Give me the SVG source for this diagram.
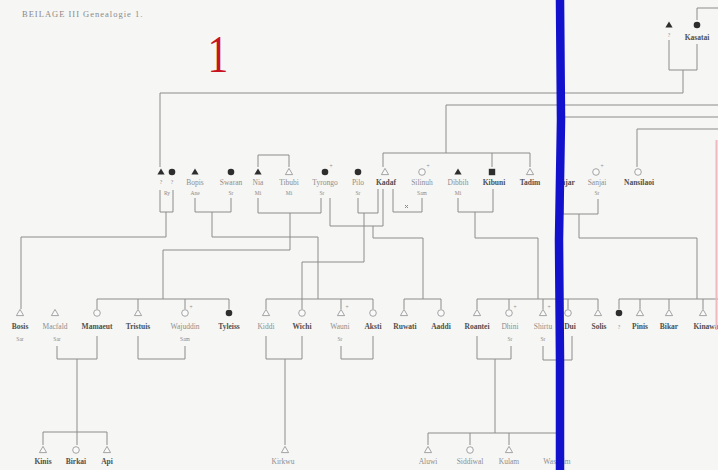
<svg xmlns="http://www.w3.org/2000/svg" width="718" height="470" viewBox="0 0 718 470">
<style>
.ln{stroke:#8c8c8c;stroke-width:1;fill:none}
.f{fill:#2e2e2e}
.o{fill:#fafafa;stroke:#9a9a9a;stroke-width:0.9}
.nm{font-family:"Liberation Serif",serif;font-size:7.5px;fill:#8e8e8e;text-anchor:middle}
.b{font-weight:bold;fill:#505050}
.sb{font-family:"Liberation Serif",serif;font-size:5.5px;fill:#8a8a8a;text-anchor:middle}
</style>
<defs>
<polygon id="tri" points="0,-3.6 3.6,2.6 -3.6,2.6"/>
<circle id="cir" r="3.3"/>
<rect id="sq" x="-3.2" y="-3.2" width="6.4" height="6.4"/>
</defs>
<rect width="718" height="470" fill="#f6f6f4"/>
<text x="22" y="17" font-family="Liberation Serif, serif" font-size="8.5" letter-spacing="1" fill="#8a8a8a">BEILAGE III   Genealogie 1.</text>
<text x="0" y="0" transform="translate(218,72) scale(0.8,1)" font-family="Liberation Serif, serif" font-size="52" fill="#c8141e" text-anchor="middle">1</text>

<g id="connectors">
<path class="ln" d="M697,20 V8 H718"/>
<path class="ln" d="M669,40 V70 H697 V44"/>
<path class="ln" d="M683,70 V93 H160 V167"/>
<path class="ln" d="M446,153 V105 H718"/>
<path class="ln" d="M383,167 V153 H530 V167 M492,153 V167"/>
<path class="ln" d="M562,167 V117 H718"/>
<path class="ln" d="M637,167 V129 H718"/>
<path class="ln" d="M258,167 V155 H289 V167"/>
<path class="ln" d="M160,190 V212 H173 V190"/>
<path class="ln" d="M166,212 V237 H21 V309"/>
<path class="ln" d="M195,198 V212 H231 V198"/>
<path class="ln" d="M212,212 V237 H318 V299"/>
<path class="ln" d="M258,198 V213 H321 V198"/>
<path class="ln" d="M290,213 V250 H163 V299"/>
<path class="ln" d="M330,198 V226 H383 V189"/>
<path class="ln" d="M358,198 V213 H378 V189"/>
<path class="ln" d="M364,213 V262 H302 V299"/>
<path class="ln" d="M373,226 V238 H423 V299"/>
<path class="ln" d="M393,189 V212 H422 V198"/>
<path class="ln" d="M405,208 l3,-3 M405,205 l3,3"/>
<path class="ln" d="M458,198 V212 H493 V189"/>
<path class="ln" d="M475,212 V238 H538 V299"/>
<path class="ln" d="M563,189 V214 H598 V199"/>
<path class="ln" d="M579,214 V238 H697 V299"/>
<path class="ln" d="M97,309 V299 H229 V309 M138,299 V309 M185,299 V309"/>
<path class="ln" d="M266,309 V299 H373 V309 M302,299 V309 M341,299 V309"/>
<path class="ln" d="M404,309 V299 H441 V309"/>
<path class="ln" d="M477,309 V299 H598 V309 M509,299 V309 M543,299 V309 M568,299 V309"/>
<path class="ln" d="M619,309 V299 H718 M640,299 V309 M669,299 V309 M703,299 V309"/>
<path class="ln" d="M57,346 V359 H97 V336"/>
<path class="ln" d="M77,359 V432 H43 V445 M77,432 V445 M77,432 H107 V445"/>
<path class="ln" d="M138,336 V359 H185 V346"/>
<path class="ln" d="M266,336 V359 H302 V336"/>
<path class="ln" d="M285,359 V445"/>
<path class="ln" d="M341,346 V359 H373 V336"/>
<path class="ln" d="M477,336 V359 H511 V346"/>
<path class="ln" d="M495,359 V433 H428 V445 M470,433 V445 M509,433 V445 M495,433 H557 V445"/>
<path class="ln" d="M543,346 V360 H572 V336"/>
</g>

<g id="kasatai"><use href="#tri" x="669" y="25" class="f"/><use href="#cir" x="697" y="25" class="f"/><text class="sb" x="669" y="37">?</text><text class="nm b" x="697" y="40">Kasatai</text></g>

<g id="tama"><use href="#tri" x="161" y="172" class="f"/><use href="#cir" x="172" y="172" class="f"/><text class="sb" x="161" y="184">?</text><text class="sb" x="172" y="184">?</text><text class="sb" x="167" y="195">Ry</text></g>
<g id="bopis"><use href="#tri" x="195" y="172" class="f"/><text class="nm" x="195" y="185">Bopis</text><text class="sb" x="195" y="195">Ane</text></g>
<g id="swaran"><use href="#cir" x="231" y="172" class="f"/><text class="nm" x="231" y="185">Swaran</text><text class="sb" x="231" y="195">Sr</text></g>
<g id="nia"><use href="#tri" x="258" y="172" class="f"/><text class="nm" x="258" y="185">Nia</text><text class="sb" x="258" y="195">Mi</text></g>
<g id="tibubi"><use href="#tri" x="289" y="172" class="o"/><text class="nm" x="289" y="185">Tibubi</text><text class="sb" x="289" y="195">Mi</text></g>
<g id="tyrongo"><use href="#cir" x="325" y="172" class="f"/><text class="sb" x="331" y="168">+</text><text class="nm" x="325" y="185">Tyrongo</text><text class="sb" x="322" y="195">Sr</text></g>
<g id="pilo"><use href="#cir" x="358" y="172" class="f"/><text class="nm" x="358" y="185">Pilo</text><text class="sb" x="358" y="195">Sr</text></g>
<g id="kadaf"><use href="#tri" x="385" y="172" class="o"/><text class="nm b" x="386" y="185">Kadaf</text></g>
<g id="silinuh"><use href="#cir" x="422" y="172" class="o"/><text class="sb" x="428" y="168">+</text><text class="nm" x="422" y="185">Silinuh</text><text class="sb" x="422" y="195">Sam</text></g>
<g id="dibbih"><use href="#tri" x="458" y="172" class="f"/><text class="nm" x="458" y="185">Dibbih</text><text class="sb" x="458" y="195">Mi</text></g>
<g id="kibuni"><use href="#sq" x="492" y="172" class="f"/><text class="nm b" x="494" y="185">Kibuni</text></g>
<g id="tadim"><use href="#tri" x="530" y="172" class="o"/><text class="nm b" x="530" y="185">Tadim</text></g>
<g id="sajar"><text class="nm b" x="566" y="185">Sajar</text></g>
<g id="sanjai"><use href="#cir" x="596" y="172" class="o"/><text class="sb" x="602" y="168">+</text><text class="nm" x="597" y="185">Sanjai</text><text class="sb" x="597" y="195">Sr</text></g>
<g id="nansilaoi"><use href="#cir" x="638" y="172" class="o"/><text class="nm b" x="639" y="185">Nansilaoi</text></g>

<g id="bosis"><use href="#tri" x="20" y="313" class="o"/><text class="nm b" x="20" y="329">Bosis</text><text class="sb" x="20" y="341">Sar</text></g>
<g id="macfald"><use href="#tri" x="55" y="313" class="o"/><text class="nm" x="55" y="329">Macfald</text><text class="sb" x="57" y="341">Sar</text></g>
<g id="mamaeut"><use href="#cir" x="97" y="313" class="o"/><text class="nm b" x="97" y="329">Mamaeut</text></g>
<g id="tristuis"><use href="#tri" x="138" y="313" class="o"/><text class="nm b" x="138" y="329">Tristuis</text></g>
<g id="wajuddin"><use href="#cir" x="185" y="313" class="o"/><text class="sb" x="191" y="309">+</text><text class="nm" x="185" y="329">Wajuddin</text><text class="sb" x="185" y="341">Sam</text></g>
<g id="tyleiss"><use href="#cir" x="229" y="313" class="f"/><text class="nm b" x="229" y="329">Tyleiss</text></g>
<g id="kiddi"><use href="#tri" x="266" y="313" class="o"/><text class="nm" x="266" y="329">Kiddi</text></g>
<g id="wichi"><use href="#cir" x="302" y="313" class="o"/><text class="nm b" x="302" y="329">Wichi</text></g>
<g id="wauni"><use href="#tri" x="341" y="313" class="o"/><text class="sb" x="347" y="309">+</text><text class="nm" x="340" y="329">Wauni</text><text class="sb" x="340" y="341">Sr</text></g>
<g id="aksti"><use href="#cir" x="373" y="313" class="o"/><text class="nm b" x="373" y="329">Aksti</text></g>
<g id="ruwati"><use href="#tri" x="404" y="313" class="o"/><text class="nm b" x="405" y="329">Ruwati</text></g>
<g id="aaddi"><use href="#cir" x="441" y="313" class="o"/><text class="nm b" x="441" y="329">Aaddi</text></g>
<g id="roantei"><use href="#tri" x="477" y="313" class="o"/><text class="nm b" x="477" y="329">Roantei</text></g>
<g id="dhini"><use href="#cir" x="509" y="313" class="o"/><text class="sb" x="515" y="309">+</text><text class="nm" x="510" y="329">Dhini</text><text class="sb" x="510" y="341">Sr</text></g>
<g id="shirtu"><use href="#tri" x="543" y="313" class="o"/><text class="sb" x="549" y="309">+</text><text class="nm" x="543" y="329">Shirtu</text><text class="sb" x="543" y="341">Sr</text></g>
<g id="dui"><use href="#cir" x="568" y="313" class="o"/><text class="nm b" x="570" y="329">Dui</text></g>
<g id="solis"><use href="#tri" x="598" y="313" class="o"/><text class="nm b" x="599" y="329">Solis</text></g>
<g id="unk"><use href="#cir" x="619" y="313" class="f"/><text class="sb" x="619" y="329">?</text></g>
<g id="pinis"><use href="#tri" x="640" y="313" class="o"/><text class="nm b" x="640" y="329">Pinis</text></g>
<g id="bikar"><use href="#tri" x="669" y="313" class="o"/><text class="nm b" x="669" y="329">Bikar</text></g>
<g id="kinawa"><use href="#tri" x="703" y="313" class="o"/><text class="nm b" x="706" y="329">Kinawa</text></g>

<g id="kinis"><use href="#tri" x="43" y="450" class="o"/><text class="nm b" x="43" y="464">Kinis</text></g>
<g id="birkai"><use href="#cir" x="76" y="450" class="o"/><text class="nm b" x="76" y="464">Birkai</text></g>
<g id="api"><use href="#tri" x="107" y="450" class="o"/><text class="nm b" x="107" y="464">Api</text></g>
<g id="kirkwu"><use href="#tri" x="285" y="450" class="o"/><text class="nm" x="283" y="464">Kirkwu</text></g>
<g id="aluwi"><use href="#tri" x="428" y="450" class="o"/><text class="nm" x="428" y="464">Aluwi</text></g>
<g id="siddiwal"><use href="#cir" x="470" y="450" class="o"/><text class="nm" x="470" y="464">Siddiwal</text></g>
<g id="kulam"><use href="#tri" x="509" y="450" class="o"/><text class="nm" x="509" y="464">Kulam</text></g>
<g id="wassnim"><text class="nm" x="557" y="464">Wassnim</text></g>

<line x1="716.5" y1="140" x2="716.5" y2="330" stroke="#f2b8c0" stroke-width="2"/>
<path d="M560,0 L561,120 L559,240 L560,360 L560,470" stroke="#1212cc" stroke-width="8.5" fill="none"/>
</svg>
